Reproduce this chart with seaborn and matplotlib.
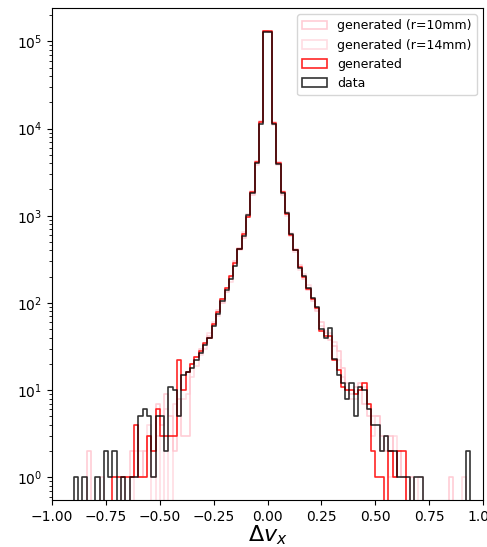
import numpy as np
import matplotlib
matplotlib.use("Agg")
import matplotlib.pyplot as plt
import seaborn as sns
from matplotlib.patches import Patch
from matplotlib.colors import to_rgba

# 100 bins of width 0.02 on [-1, 1]
edges = np.linspace(-1, 1, 101)
centres = 0.5 * (edges[:-1] + edges[1:])

# counts per bin (bin 0 = [-1.00, -0.98])
data_counts = [
    0, 0, 0, 0, 0, 1, 0, 1, 0, 0,
    1, 0, 2, 1, 2, 0, 1, 0, 1, 1,
    5, 6, 5, 1, 5, 5, 2, 11, 10, 5,
    15, 16, 18, 22, 27, 33, 40, 55, 75, 105,
    140, 190, 265, 415, 590, 1020, 1820, 4000, 11300, 129000,
    128000, 11300, 3950, 1820, 1070, 610, 400, 250, 205, 150,
    115, 90, 50, 40, 52, 23, 15, 12, 8, 12,
    5, 11, 10, 6, 4, 4, 2, 3, 2, 2,
    1, 1, 1, 0, 1, 1, 0, 0, 0, 0,
    0, 0, 0, 0, 0, 0, 2, 0, 0, 0,
]
gen_counts = [
    0, 0, 0, 0, 0, 0, 0, 0, 0, 0,
    0, 0, 0, 0, 1, 1, 1, 1, 1, 4,
    1, 1, 3, 2, 6, 3, 3, 3, 3, 22,
    10, 16, 20, 24, 28, 35, 40, 58, 78, 112,
    150, 205, 285, 420, 620, 960, 1850, 4100, 12000, 132000,
    130000, 11600, 4000, 1850, 1050, 600, 410, 260, 200, 145,
    110, 88, 48, 42, 42, 22, 17, 11, 10, 10,
    9, 10, 12, 7, 2, 1, 1, 0, 2, 1,
    2, 2, 0, 0, 0, 0, 0, 0, 0, 0,
    0, 0, 0, 0, 0, 0, 0, 0, 0, 0,
]
gen10_counts = [
    0, 0, 0, 0, 0, 0, 0, 0, 2, 0,
    0, 0, 0, 0, 0, 0, 1, 0, 2, 1,
    1, 2, 3, 1, 7, 4, 9, 5, 2, 8,
    3, 3, 20, 24, 30, 34, 42, 56, 82, 100,
    135, 200, 300, 430, 560, 1000, 1750, 4200, 12200, 133000,
    127000, 11800, 4100, 1750, 1100, 580, 420, 270, 190, 140,
    105, 80, 60, 45, 38, 32, 28, 18, 10, 9,
    11, 12, 7, 5, 5, 5, 3, 2, 3, 1,
    2, 1, 0, 1, 0, 0, 0, 0, 0, 0,
    0, 0, 1, 0, 0, 0, 0, 0, 0, 0,
]
gen14_counts = [
    0, 0, 0, 0, 0, 0, 0, 0, 0, 0,
    0, 1, 0, 0, 0, 0, 0, 1, 0, 2,
    2, 1, 4, 0, 3, 0, 6, 0, 7, 5,
    8, 9, 14, 19, 25, 30, 45, 60, 70, 110,
    150, 175, 280, 400, 650, 1050, 1900, 3800, 11800, 130000,
    129000, 11000, 3800, 1900, 1000, 640, 380, 240, 215, 160,
    110, 85, 55, 48, 45, 36, 22, 14, 12, 8,
    8, 10, 11, 6, 3, 5, 2, 3, 1, 3,
    2, 1, 1, 0, 0, 1, 0, 0, 0, 0,
    0, 0, 0, 0, 0, 1, 0, 0, 0, 0,
]

series = [
    ("generated (r=10mm)", gen10_counts, "pink", 0.8),
    ("generated (r=14mm)", gen14_counts, "pink", 0.55),
    ("generated", gen_counts, "red", 0.85),
    ("data", data_counts, "black", 0.8),
]

fig, ax = plt.subplots(figsize=(4.87, 5.47), dpi=100)
fig.subplots_adjust(left=0.107, right=0.992, top=0.985, bottom=0.086)

handles = []
for label, vals, col, a in series:
    sns.histplot(x=centres, weights=np.asarray(vals, float), bins=list(edges),
                 element="step", fill=False, color=col, alpha=a,
                 linewidth=1.2, ax=ax)
    handles.append(Patch(facecolor="none", edgecolor=to_rgba(col, a),
                         linewidth=1.2, label=label))

ax.set_yscale("log")
ax.set_xlim(-1, 1)
ax.set_ylim(0.55, 2.4e5)
ax.set_ylabel("")
ax.set_xlabel(r"$\Delta v_x$", fontsize=16, labelpad=0)
ax.legend(handles=handles, loc="upper right", fontsize=9)

fig.savefig("out.png", dpi=100)
